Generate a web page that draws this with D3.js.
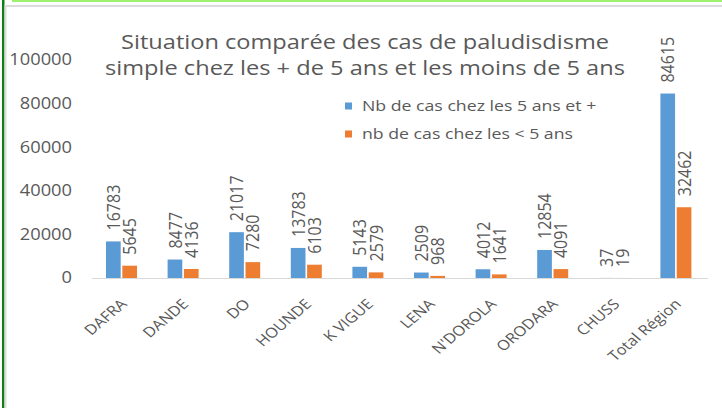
<!DOCTYPE html>
<html>
<head>
<meta charset="utf-8">
<script src="https://cdn.jsdelivr.net/npm/d3@7"></script>
<style>
  body { margin: 0; background: #fff; }
  svg { display: block; }
  text { font-family: "Open Sans", sans-serif; fill: #595959; }
</style>
</head>
<body>
<script>
const categories = ["DAFRA", "DANDE", "DO", "HOUNDE", "K VIGUE", "LENA", "N'DOROLA", "ORODARA", "CHUSS", "Total Région"]
const plus5 = [16783, 8477, 21017, 13783, 5143, 2509, 4012, 12854, 37, 84615]
const moins5 = [5645, 4136, 7280, 6103, 2579, 968, 1641, 4091, 19, 32462]
const seriesNames = ["Nb de cas chez les 5 ans et +", "nb de cas chez les < 5 ans"]
const yTicks = [0, 20000, 40000, 60000, 80000, 100000]
const titleLines = ["Situation comparée des cas de paludisdisme", "simple chez les + de 5 ans et les moins de 5 ans"]

const width = 722, height = 408
const margin = {top: 60, right: 14, bottom: 130, left: 92}
const colors = ["#5b9bd5", "#ed7d31"]
const sx = 1.18 // the picture is stretched sideways, text too

const svg = d3.select("body").append("svg")
    .attr("width", width)
    .attr("height", height)

// frame (green border, grey shadow lines)
svg.append("rect").attr("x", 2).attr("y", 0).attr("width", 2.5).attr("height", height).attr("fill", "#108010")
svg.append("rect").attr("x", 4.5).attr("y", 5).attr("width", 2).attr("height", height).attr("fill", "#dcdcdc")
svg.append("rect").attr("x", 12).attr("y", 0).attr("width", width).attr("height", 2).attr("fill", "#9ef06e")
svg.append("rect").attr("x", 5).attr("y", 5).attr("width", width).attr("height", 2).attr("fill", "#dcdcdc")

const x0 = d3.scaleBand(categories, [margin.left, width - margin.right])
const x1 = d3.scaleBand([0, 1], [14, 45]).paddingInner(0.1)
const y = d3.scaleLinear([0, 100000], [278, margin.top])

// y axis labels
svg.append("g")
    .attr("font-size", 15.5)
    .attr("text-anchor", "end")
  .selectAll("text")
  .data(yTicks)
  .join("text")
    .attr("transform", d => `translate(72,${y(d)}) scale(${sx},1)`)
    .attr("dy", "0.35em")
    .text(d => d)

// baseline
svg.append("line")
    .attr("x1", x0.range()[0]).attr("x2", x0.range()[1])
    .attr("y1", y(0) + 0.5).attr("y2", y(0) + 0.5)
    .attr("stroke", "#d9d9d9")

const series = [plus5, moins5]
const groups = svg.append("g")
  .selectAll("g")
  .data(categories)
  .join("g")
    .attr("transform", c => `translate(${x0(c)},0)`)

groups.selectAll("rect")
  .data((c, i) => series.map((s, k) => ({k, v: s[i]})))
  .join("rect")
    .attr("x", d => x1(d.k))
    .attr("width", x1.bandwidth())
    .attr("y", d => y(d.v))
    .attr("height", d => y(0) - y(d.v))
    .attr("fill", d => colors[d.k])

groups.selectAll("text")
  .data((c, i) => series.map((s, k) => ({k, v: s[i]})))
  .join("text")
    .attr("font-size", 16)
    .attr("transform", d => `translate(${x1(d.k) + x1.bandwidth() / 2},${y(d.v) - 11}) scale(${sx},1) rotate(-90)`)
    .attr("dy", "0.35em")
    .text(d => d.v)

// category labels
svg.append("g")
    .attr("font-size", 14)
    .attr("text-anchor", "end")
  .selectAll("text")
  .data(categories)
  .join("text")
    .attr("transform", c => `translate(${x0(c) + x0.bandwidth() / 2 + 5},305) scale(${sx},1) rotate(-45)`)
    .text(c => c)

// title
svg.append("g")
    .attr("font-size", 20)
    .attr("text-anchor", "middle")
  .selectAll("text")
  .data(titleLines)
  .join("text")
    .attr("transform", (d, i) => `translate(365,${49 + i * 26}) scale(${sx},1)`)
    .text(d => d)

// legend
const legend = svg.append("g")
    .attr("font-size", 15)
  .selectAll("g")
  .data(seriesNames)
  .join("g")
    .attr("transform", (d, i) => `translate(345,${106 + i * 28})`)
legend.append("rect")
    .attr("y", -3.5).attr("width", 7).attr("height", 7)
    .attr("fill", (d, i) => colors[i])
legend.append("text")
    .attr("transform", `translate(17,0) scale(${sx},1)`)
    .attr("dy", "0.35em")
    .text(d => d)
</script>
</body>
</html>
